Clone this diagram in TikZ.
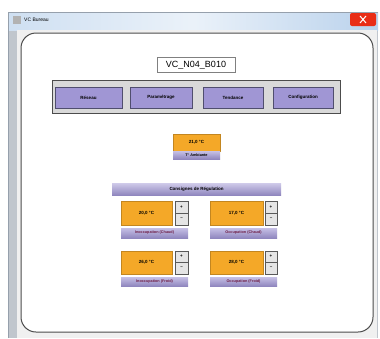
\documentclass[tikz,border=0pt]{standalone}
\usepackage{fontspec}
\setmainfont{Liberation Sans}
\usepackage{tikz}
\usetikzlibrary{calc}
\definecolor{titleblue}{RGB}{186, 210, 236}
\definecolor{framegray}{RGB}{150, 160, 172}
\definecolor{barorange}{RGB}{244, 168, 40}
\definecolor{btnlilac}{RGB}{160, 150, 212}
\definecolor{btnedge}{RGB}{80, 78, 110}
\definecolor{labelred}{RGB}{110, 30, 70}

\tikzset{
  btn/.style={fill=btnlilac, draw=btnedge, line width=0.8pt},
  lbl/.style={top color=btnlilac!60, bottom color=btnlilac!90!black, draw=none},
  spin/.style={fill=gray!20, draw=gray!70!black, line width=0.6pt},
  orangebox/.style={fill=barorange, draw=barorange!80!black, line width=0.3pt}
}

\begin{document}
\begin{tikzpicture}[x=1pt, y=-1pt, every node/.style={font=\fontsize{4.5}{4.5}\selectfont\bfseries, inner sep=0pt}]
    \useasboundingbox (0, 0) rectangle (380, 338);
    \fill[white] (0, 0) rectangle (380, 338);

    % window frame and title bar
    \fill[framegray!60] (8, 12) rectangle (378, 338);
    \shade[left color=titleblue!70, right color=titleblue, middle color=white!70!titleblue] (8, 12) rectangle (378, 30);
    \draw[framegray, line width=0.6pt] (8, 338) -- (8, 12) -- (378, 12);
    \fill[gray!60] (13, 16) rectangle (21, 24);
    \node[anchor=west, font=\fontsize{5}{5}\selectfont] (wintitle) at (24, 20) {VC Bureau};
    \fill[red!65!brown, rounded corners=2pt] (350, 13) rectangle (376, 26);
    \draw[white, line width=1pt] (360, 16) -- (366, 23) (366, 16) -- (360, 23);

    % client area and panel
    \fill[gray!12] (17, 30) rectangle (377, 338);
    \draw[gray!60!black, line width=1pt, fill=white, rounded corners=15pt] (21, 33) rectangle (373, 332);

    \node[draw=gray, fill=white, line width=0.4pt, minimum width=78pt, minimum height=15pt,
          font=\fontsize{9}{9}\selectfont] (devname) at (196, 65) {VC\_N04\_B010};

    % menu bar
    \draw[fill=gray!30, draw=gray!60!black, line width=0.8pt] (52, 80) rectangle (340, 113);
    \draw[btn] (55, 87) rectangle (122, 108);
    \node (reseau) at (88.5, 97.5) {Réseau};
    \draw[btn] (130, 87) rectangle (192, 108);
    \node (param) at (161, 97.5) {Paramétrage};
    \draw[btn] (203, 87) rectangle (263, 108);
    \node (tendance) at (233, 97.5) {Tendance};
    \draw[btn] (273, 87) rectangle (333, 108);
    \node (config) at (303, 97.5) {Configuration};

    % ambient temperature
    \draw[orangebox] (173, 134) rectangle (220, 151);
    \node (tamb) at (196.5, 142.5) {21,0 °C};
    \fill[lbl] (173, 151) rectangle (220, 159);
    \node[font=\fontsize{3.8}{3.8}\selectfont\bfseries] (tambl) at (196.5, 155) {T° Ambiante};

    % setpoints
    \shade[top color=btnlilac!50, bottom color=btnlilac!90!black] (112, 183) rectangle (281, 195);
    \node (consignes) at (196.5, 189) {Consignes de Régulation};

    \draw[orangebox] (121, 201) rectangle (172, 225);
    \node (sp1) at (146.5, 213) {20,0 °C};
    \draw[spin] (175, 201) rectangle (188, 213);
    \draw[spin] (175, 213) rectangle (188, 225);
    \node (sp1up) at (181.5, 207) {+};
    \node (sp1dn) at (181.5, 219) {--};
    \fill[lbl] (121, 228) rectangle (188, 238);
    \node[font=\fontsize{3.8}{3.8}\selectfont\bfseries, text=labelred] (sp1l) at (154.5, 233) {Inoccupation (Chaud)};

    \draw[orangebox] (210, 201) rectangle (263, 225);
    \node (sp2) at (236.5, 213) {17,0 °C};
    \draw[spin] (265, 201) rectangle (277, 213);
    \draw[spin] (265, 213) rectangle (277, 225);
    \node (sp2up) at (271, 207) {+};
    \node (sp2dn) at (271, 219) {--};
    \fill[lbl] (210, 228) rectangle (277, 238);
    \node[font=\fontsize{3.8}{3.8}\selectfont\bfseries, text=labelred] (sp2l) at (243.5, 233) {Occupation (Chaud)};

    \draw[orangebox] (121, 251) rectangle (172, 274);
    \node (sp3) at (146.5, 262.5) {26,0 °C};
    \draw[spin] (175, 251) rectangle (188, 262.5);
    \draw[spin] (175, 262.5) rectangle (188, 274);
    \node (sp3up) at (181.5, 256.5) {+};
    \node (sp3dn) at (181.5, 268) {--};
    \fill[lbl] (121, 277) rectangle (188, 286);
    \node[font=\fontsize{3.8}{3.8}\selectfont\bfseries, text=labelred] (sp3l) at (154.5, 281.5) {Inoccupation (Froid)};

    \draw[orangebox] (210, 251) rectangle (263, 274);
    \node (sp4) at (236.5, 262.5) {28,0 °C};
    \draw[spin] (265, 251) rectangle (277, 262.5);
    \draw[spin] (265, 262.5) rectangle (277, 274);
    \node (sp4up) at (271, 256.5) {+};
    \node (sp4dn) at (271, 268) {--};
    \fill[lbl] (210, 277) rectangle (277, 286);
    \node[font=\fontsize{3.8}{3.8}\selectfont\bfseries, text=labelred] (sp4l) at (243.5, 281.5) {Occupation (Froid)};
\end{tikzpicture}
\end{document}
